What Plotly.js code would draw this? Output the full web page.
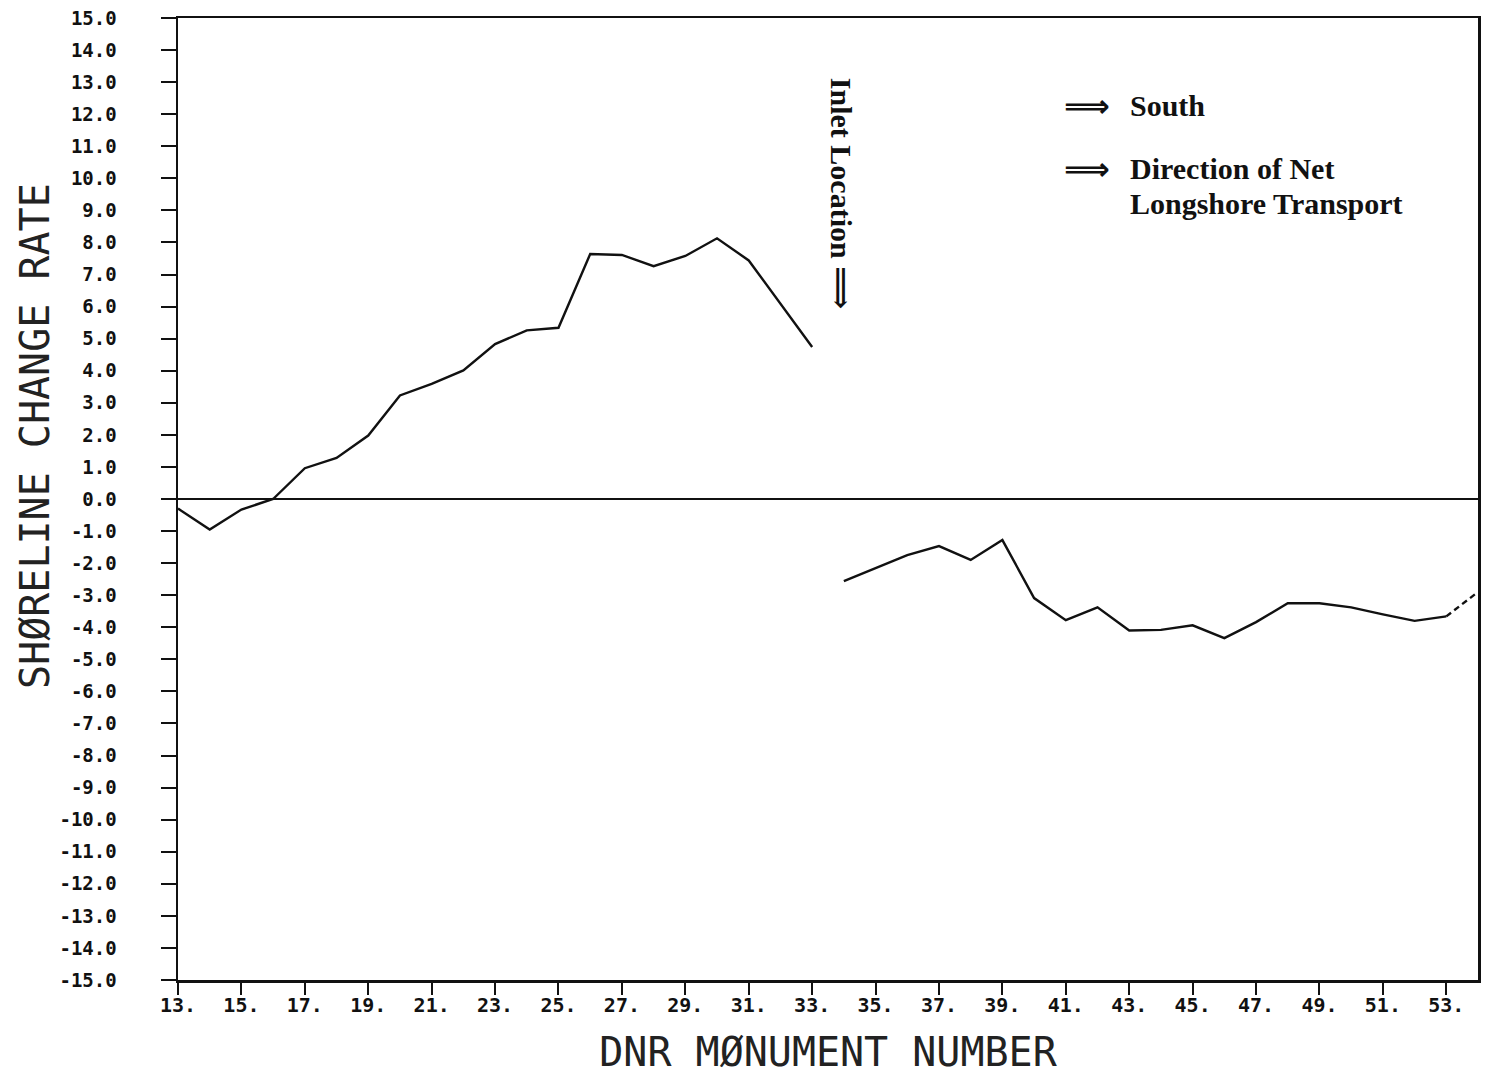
<!DOCTYPE html>
<html>
<head>
<meta charset="utf-8">
<script src="https://cdn.plot.ly/plotly-3.0.1.min.js"></script>
<style>
  html, body { margin: 0; padding: 0; background: #ffffff; }
  #chart { width: 1490px; height: 1076px; }
</style>
</head>
<body>
<div id="chart"></div>
<script>
// ---- Data ----
const northMonuments = [13, 14, 15, 16, 17, 18, 19, 20, 21, 22, 23, 24, 25, 26, 27, 28, 29, 30, 31, 32, 33];
const northRates     = [-0.3, -0.95, -0.33, 0.0, 0.96, 1.28, 1.98, 3.23, 3.59, 4.01, 4.83, 5.26, 5.34, 7.64, 7.61, 7.26, 7.58, 8.13, 7.44, 6.08, 4.74];

const southMonuments = [34, 35, 36, 37, 38, 39, 40, 41, 42, 43, 44, 45, 46, 47, 48, 49, 50, 51, 52, 53];
const southRates     = [-2.56, -2.16, -1.75, -1.47, -1.9, -1.28, -3.09, -3.78, -3.38, -4.1, -4.08, -3.94, -4.34, -3.84, -3.25, -3.25, -3.38, -3.6, -3.8, -3.66];

const endMonuments = [53, 54];
const endRates     = [-3.66, -2.9];

const xTickVals   = [13, 15, 17, 19, 21, 23, 25, 27, 29, 31, 33, 35, 37, 39, 41, 43, 45, 47, 49, 51, 53];
const xTickLabels = ["13.", "15.", "17.", "19.", "21.", "23.", "25.", "27.", "29.", "31.", "33.", "35.", "37.", "39.", "41.", "43.", "45.", "47.", "49.", "51.", "53."];

const yTickVals   = [15, 14, 13, 12, 11, 10, 9, 8, 7, 6, 5, 4, 3, 2, 1, 0, -1, -2, -3, -4, -5, -6, -7, -8, -9, -10, -11, -12, -13, -14, -15];
const yTickLabels = ["15.0", "14.0", "13.0", "12.0", "11.0", "10.0", "9.0", "8.0", "7.0", "6.0", "5.0", "4.0", "3.0", "2.0", "1.0", "0.0",
                     "-1.0", "-2.0", "-3.0", "-4.0", "-5.0", "-6.0", "-7.0", "-8.0", "-9.0", "-10.0", "-11.0", "-12.0", "-13.0", "-14.0", "-15.0"];

const xTitle = "DNR MØNUMENT NUMBER";
const yTitle = "SHØRELINE CHANGE RATE";
const inletText = "Inlet Location ⟹";
const southText = "South";
const transportLine1 = "Direction of Net";
const transportLine2 = "Longshore Transport";
const arrowText = "⟹";

// ---- Chart ----
const lineStyle = { color: "#111111", width: 2.4 };
const traces = [
  { x: northMonuments, y: northRates, mode: "lines", line: lineStyle, hoverinfo: "x+y" },
  { x: southMonuments, y: southRates, mode: "lines", line: lineStyle, hoverinfo: "x+y" },
  { x: endMonuments, y: endRates, mode: "lines", line: Object.assign({}, lineStyle, { dash: "6px,4px" }), hoverinfo: "x+y" }
];

const serif = { family: "Liberation Serif, DejaVu Serif, serif", size: 30, color: "#111111", weight: 700 };
const arrowFont = { family: "DejaVu Sans, sans-serif", size: 32, color: "#111111", weight: 700 };
const titleFont = { family: "DejaVu Sans Mono, monospace", size: 40, color: "#222222" };

const layout = {
  width: 1490,
  height: 1076,
  showlegend: false,
  paper_bgcolor: "#ffffff",
  plot_bgcolor: "#ffffff",
  margin: { l: 178, r: 12, t: 18, b: 96, pad: 0 },
  xaxis: {
    range: [13, 54],
    tickmode: "array",
    tickvals: xTickVals,
    ticktext: xTickLabels,
    ticks: "outside",
    ticklen: 12,
    tickwidth: 2,
    tickcolor: "#111111",
    ticklabelstandoff: -7,
    showgrid: false,
    zeroline: false,
    showline: true,
    linewidth: 2.5,
    linecolor: "#111111",
    mirror: true,
    tickfont: { family: "DejaVu Sans Mono, monospace", size: 20, color: "#111111", weight: 700 },
    title: { text: xTitle, standoff: 23, font: titleFont },
    automargin: false
  },
  yaxis: {
    range: [-15, 15],
    tickmode: "array",
    tickvals: yTickVals,
    ticktext: yTickLabels,
    ticks: "outside",
    ticklen: 15,
    tickwidth: 2,
    tickcolor: "#111111",
    ticklabelstandoff: 40,
    showgrid: false,
    zeroline: true,
    zerolinewidth: 2,
    zerolinecolor: "#111111",
    showline: true,
    linewidth: 2.5,
    linecolor: "#111111",
    mirror: true,
    tickfont: { family: "DejaVu Sans Mono, monospace", size: 19, color: "#111111", weight: 700 },
    automargin: false
  },
  annotations: [
    { text: yTitle, x: -0.11, y: 0.5655, xref: "paper", yref: "paper", showarrow: false, textangle: -90,
      font: titleFont, xanchor: "center", yanchor: "middle" },
    { text: inletText, x: 33.95, y: 9.54, xref: "x", yref: "y", showarrow: false, textangle: 90,
      font: serif, xanchor: "center", yanchor: "middle" },
    { text: arrowText, x: 40.88, y: 12.26, xref: "x", yref: "y", showarrow: false,
      font: arrowFont, xanchor: "left", yanchor: "middle" },
    { text: southText, x: 42.96, y: 12.26, xref: "x", yref: "y", showarrow: false,
      font: serif, xanchor: "left", yanchor: "middle" },
    { text: arrowText, x: 40.88, y: 10.3, xref: "x", yref: "y", showarrow: false,
      font: arrowFont, xanchor: "left", yanchor: "middle" },
    { text: transportLine1, x: 42.96, y: 10.3, xref: "x", yref: "y", showarrow: false,
      font: serif, xanchor: "left", yanchor: "middle" },
    { text: transportLine2, x: 42.96, y: 9.22, xref: "x", yref: "y", showarrow: false,
      font: serif, xanchor: "left", yanchor: "middle" }
  ]
};

Plotly.newPlot("chart", traces, layout, { displayModeBar: false, staticPlot: true });
</script>
</body>
</html>
